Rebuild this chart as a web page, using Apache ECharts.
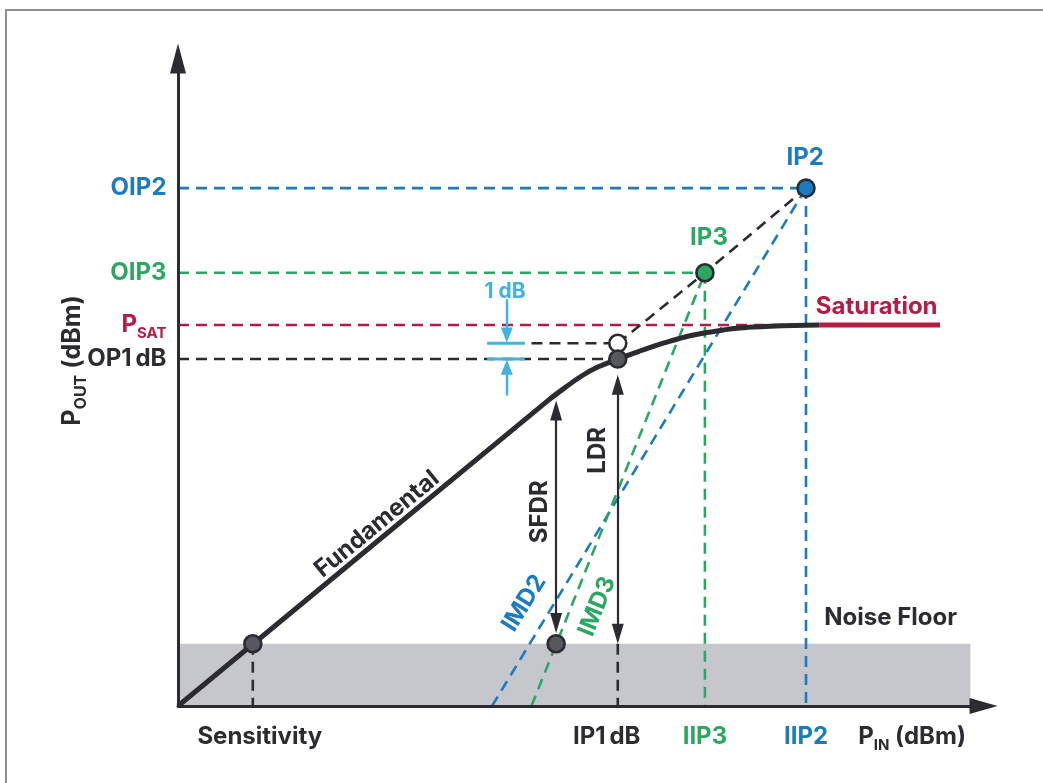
<!DOCTYPE html>
<html>
<head>
<meta charset="utf-8">
<script src="https://cdn.jsdelivr.net/npm/echarts@6/dist/echarts.min.js"></script>
<style>
  html, body { margin: 0; padding: 0; background: #fff; overflow: hidden; }
  #frame { position: absolute; left: 5px; top: 9px; width: 1100px; height: 850px;
           border: 2px solid #8e8e8e; box-sizing: border-box; }
  #chart { position: absolute; left: 0; top: 0; width: 1043px; height: 783px; }
</style>
</head>
<body>
<div id="frame"></div>
<div id="chart"></div>
<script>
// ---- values (dBm, arbitrary diagram scale) ----
// Marks along the input-power axis
const inputLabels = ['Sensitivity', 'IP1\u2009dB', 'IIP3', 'IIP2'];
const inputLevels = [9.1, 53.5, 64.1, 76.4];
// Marks along the output-power axis
const outputLabels = ['OIP2', 'OIP3', 'PSAT', 'OP1\u2009dB'];
const outputLevels = [62.4, 52.2, 45.9, 41.8];
// Noise floor
const noiseFloor = 7.5;
const noiseFloorEnd = 96.4;
// Fundamental output: linear gain, then compression into saturation
const fundamentalPin = [0, 45, 47, 49, 51, 53.5, 56, 58, 60, 62, 64, 66, 68, 70, 72, 75, 78];
const fundamentalPout = [0, 36.8, 38.3, 39.7, 40.8, 41.8, 42.7, 43.4, 44.0, 44.55, 44.95,
                         45.25, 45.5, 45.65, 45.75, 45.85, 45.9];
const saturationPin = [78, 92.7];
// Ideal linear gain extended past the 1 dB point
const linearPin = [53.5, 64.1, 76.4];
const linearPout = [43.7, 52.2, 62.4];
// Second- and third-order intermodulation products
const imd2Pin = [38.2, 76.4];
const imd2Pout = [0, 62.4];
const imd3Pin = [43.0, 64.1];
const imd3Pout = [0, 52.2];
// Dynamic ranges: [input level, top, bottom]
const sfdrSpan = [46.0, 37.5, 7.5];
const ldrSpan = [53.5, 41.8, 7.5];

const C = {
  ink: '#2b2b31', blue: '#1b7bc0', green: '#2aa862', red: '#b51b43',
  cyan: '#3fb4e2', band: '#c6c7cc', dot: '#56585f'
};
const FONT = 'Inter';
const FS = 24;
const [xSens, xP1, xIIP3, xIIP2] = inputLevels;
const [yOIP2, yOIP3, yPSAT, yOP1] = outputLevels;
const yLin1 = linearPout[0];

function seg(xs, ys, color, width, dashed, z) {
  return {
    type: 'line', data: xs.map((x, i) => [x, ys[i]]), symbol: 'none',
    silent: true, animation: false, z: z || 2, clip: false,
    lineStyle: { color: color, width: width, type: dashed ? [11, 7] : 'solid', cap: 'butt', opacity: 1 }
  };
}
function dotStyle(fill) {
  return { color: fill, borderColor: C.ink, borderWidth: 2.6, opacity: 1 };
}

function richColored(color, big, small) {
  big = big || FS;
  small = small || 15;
  return {
    b: { fontFamily: FONT, fontWeight: 'bold', fontSize: big, lineHeight: big + 3, color: color },
    s: { fontFamily: FONT, fontWeight: 'bold', fontSize: small, lineHeight: small + 1,
         padding: [Math.round(big * 0.7), 0, 0, 0], color: color }
  };
}

const textStyle = (color, size) => ({
  show: true, position: 'inside', color: color, fontFamily: FONT,
  fontWeight: 'bold', fontSize: size || FS, opacity: 1
});

// free-standing annotations
const notes = [
  { text: 'Fundamental', at: [24.2, 21.9], rotate: 39.5, color: C.ink },
  { text: 'SFDR', at: [44.0, 23.4], rotate: 90, color: C.ink },
  { text: 'LDR', at: [51.1, 30.8], rotate: 90, color: C.ink },
  { text: 'IMD2', at: [42.1, 12.4], rotate: 58, color: C.blue },
  { text: 'IMD3', at: [51.0, 12.0], rotate: 68, color: C.green },
  { text: 'Noise Floor', at: [86.7, 10.6], rotate: 0, color: C.ink },
  { text: 'Saturation', at: [85.0, 48.1], rotate: 0, color: C.red },
  { text: 'IP2', at: [76.3, 66.0], rotate: 0, color: C.blue },
  { text: 'IP3', at: [64.6, 56.4], rotate: 0, color: C.green },
  { text: '1 dB', at: [39.8, 49.9], rotate: 0, color: C.cyan, size: 21 }
];
const inputColors = [C.ink, C.ink, C.green, C.blue];
const inputNudge = [7, -11, 0, 0];
const outputColors = [C.blue, C.green, C.red, C.ink];

const hidden = { color: 'transparent', opacity: 1 };

const series = [
  // noise floor band
  {
    type: 'line', data: [[0, noiseFloor], [noiseFloorEnd, noiseFloor]], symbol: 'none',
    silent: true, animation: false, z: 1,
    lineStyle: { width: 0 }, areaStyle: { color: C.band, opacity: 1 }
  },
  // horizontal guides to the output axis
  seg([0, xIIP2], [yOIP2, yOIP2], C.blue, 2.6, true),
  seg([0, xIIP3], [yOIP3, yOIP3], C.green, 2.6, true),
  seg([0, saturationPin[0]], [yPSAT, yPSAT], C.red, 2.6, true),
  seg([0, xP1], [yOP1, yOP1], C.ink, 2.6, true),
  seg([43.0, xP1], [yLin1, yLin1], C.ink, 2.6, true),
  // vertical guides to the input axis
  seg([xIIP2, xIIP2], [yOIP2, 0], C.blue, 2.6, true),
  seg([xIIP3, xIIP3], [yOIP3, 0], C.green, 2.6, true),
  seg([xSens, xSens], [noiseFloor, 0], C.ink, 2.6, true),
  seg([xP1, xP1], [noiseFloor, 0], C.ink, 2.6, true),
  // linear extrapolation and intermod products
  seg(linearPin, linearPout, C.ink, 2.6, true),
  seg(imd2Pin, imd2Pout, C.blue, 2.6, true),
  seg(imd3Pin, imd3Pout, C.green, 2.6, true),
  // 1 dB compression markers
  seg([37.6, 42.2], [yLin1, yLin1], C.cyan, 3, false, 3),
  seg([37.6, 42.2], [yOP1, yOP1], C.cyan, 3, false, 3),
  // fundamental and saturation
  {
    type: 'line', data: fundamentalPin.map((x, i) => [x, fundamentalPout[i]]),
    symbol: 'none', smooth: 0.25, silent: true, animation: false, z: 4,
    lineStyle: { color: C.ink, width: 5, opacity: 1 }
  },
  seg(saturationPin, [yPSAT, yPSAT], C.red, 5, false, 4),
  // arrows
  {
    type: 'line', data: [], z: 5, silent: true, animation: false,
    markLine: {
      silent: true, animation: false, symbol: ['triangle', 'triangle'], symbolSize: [12, 20],
      label: { show: false }, lineStyle: { color: C.ink, width: 2.2, type: 'solid', opacity: 1 },
      data: [
        [{ coord: [sfdrSpan[0], sfdrSpan[1] - 1.9] }, { coord: [sfdrSpan[0], sfdrSpan[2] + 2.5] }],
        [{ coord: [ldrSpan[0], ldrSpan[1] - 3.1] }, { coord: [ldrSpan[0], ldrSpan[2] + 1.2] }],
        [{ coord: [40.0, 49.0], symbol: 'none', lineStyle: { color: C.cyan, width: 2.4 } },
         { coord: [40.0, yLin1 + 1.0], symbol: 'triangle', symbolSize: [12, 15] }],
        [{ coord: [40.0, 37.4], symbol: 'none', lineStyle: { color: C.cyan, width: 2.4 } },
         { coord: [40.0, yOP1 - 1.0], symbol: 'triangle', symbolSize: [12, 15] }]
      ]
    }
  },
  // points
  {
    type: 'scatter', symbol: 'circle', symbolSize: 17, z: 6, silent: true, animation: false, clip: false,
    itemStyle: { opacity: 1 },
    data: [
      { value: [xSens, noiseFloor], itemStyle: dotStyle(C.dot) },
      { value: [sfdrSpan[0], noiseFloor], itemStyle: dotStyle(C.dot) },
      { value: [xP1, yLin1], itemStyle: dotStyle('#ffffff') },
      { value: [xP1, yOP1], itemStyle: dotStyle(C.dot) },
      { value: [linearPin[1], linearPout[1]], itemStyle: dotStyle(C.green) },
      { value: [linearPin[2], linearPout[2]], itemStyle: dotStyle(C.blue) }
    ]
  },
  // annotations
  {
    type: 'scatter', symbolSize: 1, z: 7, silent: true, animation: false, clip: false,
    itemStyle: hidden,
    data: notes.map(n => ({
      value: n.at,
      label: Object.assign(textStyle(n.color, n.size), { formatter: n.text, rotate: n.rotate })
    }))
  },
  // input-axis labels
  {
    type: 'scatter', symbolSize: 1, z: 7, silent: true, animation: false, clip: false,
    itemStyle: hidden,
    data: inputLabels.map((t, i) => ({
      value: [inputLevels[i], -3.7],
      label: Object.assign(textStyle(inputColors[i]), { formatter: t, offset: [inputNudge[i], 0] })
    })).concat([{
      value: [89.3, -3.7],
      label: { show: true, position: 'inside', formatter: '{b|P}{s|IN}{b| (dBm)}', rich: richColored(C.ink) }
    }])
  },
  // output-axis labels
  {
    type: 'scatter', symbolSize: 1, z: 7, silent: true, animation: false, clip: false,
    itemStyle: hidden,
    data: outputLabels.map((t, i) => ({
      value: [0, outputLevels[i]],
      label: t === 'PSAT'
        ? { show: true, position: 'left', distance: 11, formatter: '{b|P}{s|SAT}', rich: richColored(C.red) }
        : Object.assign(textStyle(outputColors[i]), { position: 'left', distance: 11, formatter: t })
    }))
  }
];

const chart = echarts.init(document.getElementById('chart'), null, { renderer: 'canvas' });
chart.setOption({
  animation: false,
  backgroundColor: 'transparent',
  grid: { left: 178, right: 59.44, top: 58.6, bottom: 77 },
  xAxis: {
    type: 'value', min: 0, max: 98, z: 10,
    axisLine: { show: true, symbol: ['none', 'triangle'], symbolSize: [16, 28],
                lineStyle: { color: C.ink, width: 3 } },
    axisTick: { show: false }, axisLabel: { show: false }, splitLine: { show: false }
  },
  yAxis: {
    type: 'value', min: 0, max: 78, z: 10,
    name: '{b|P}{s|OUT}{b| (dBm)}', nameLocation: 'middle', nameGap: 92, nameRotate: 90,
    nameTextStyle: { rich: richColored(C.ink, 25, 16), padding: [0, 0, 0, 44] },
    axisLine: { show: true, symbol: ['none', 'triangle'], symbolSize: [16, 30],
                lineStyle: { color: C.ink, width: 3 } },
    axisTick: { show: false }, axisLabel: { show: false }, splitLine: { show: false }
  },
  series: series
});
</script>
</body>
</html>
